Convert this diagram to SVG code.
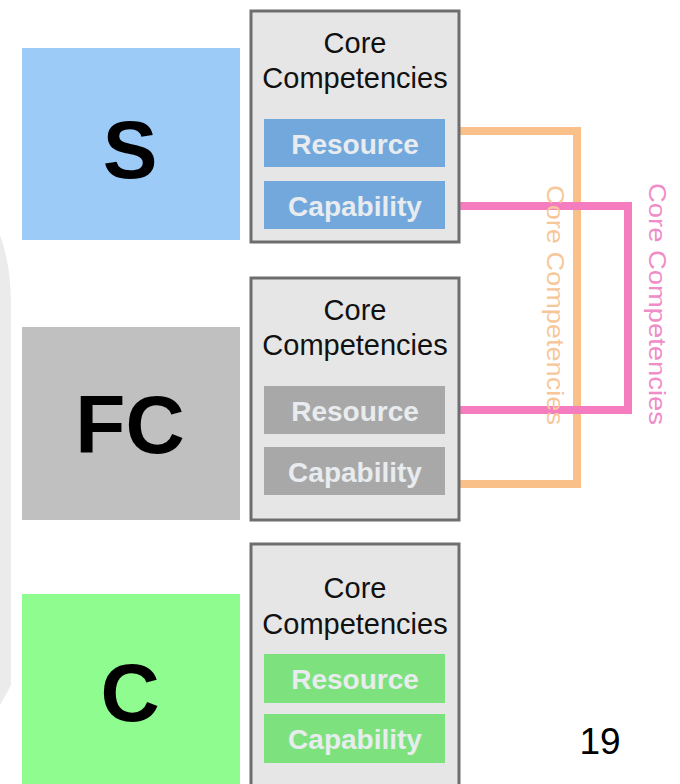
<svg xmlns="http://www.w3.org/2000/svg" width="680" height="784" viewBox="0 0 680 784">
<style>
.big{font-family:"Liberation Sans",Arial,sans-serif;font-weight:bold;font-size:82px;fill:#000;text-anchor:middle}
.cc{font-family:"Liberation Sans",Arial,sans-serif;font-size:29px;fill:#111;text-anchor:middle}
.in{font-family:"Liberation Sans",Arial,sans-serif;font-weight:bold;font-size:28px;fill:#e8ecef;text-anchor:middle}
.cont{fill:#e6e6e6;stroke:#6e6e6e;stroke-width:3}
.vt{font-family:"Liberation Sans",Arial,sans-serif;font-size:24px;text-anchor:middle}
.conn{fill:none;stroke-width:8;stroke-linejoin:miter}
</style>
<rect x="0" y="0" width="680" height="784" fill="#ffffff"/>
<path d="M0,235 Q11,265 11,305 L11,685 Q6,695 0,705 Z" fill="#ebebeb"/>
<g id="connectors">
<path class="conn" d="M446,131 H577 V484 H446" stroke="#f9c08a"/>
<path class="conn" d="M446,206 H628 V410 H446" stroke="#f47cbf"/>
<text class="vt" transform="translate(547,305) rotate(90)" fill="#f7c79a" textLength="240" lengthAdjust="spacingAndGlyphs">Core Competencies</text>
<text class="vt" transform="translate(649,304) rotate(90)" fill="#f08cc8" textLength="242" lengthAdjust="spacingAndGlyphs">Core Competencies</text>
</g>
<g id="S">
<rect x="22" y="48" width="218" height="192" fill="#9ccbf7"/>
<text class="big" x="130" y="178">S</text>
</g>
<g id="S-core">
<rect class="cont" x="251" y="11" width="208" height="231"/>
<text class="cc" x="355" y="53">Core</text>
<text class="cc" x="355" y="88">Competencies</text>
<rect x="264" y="119" width="181" height="48" fill="#73a8dd"/>
<text class="in" x="355" y="154">Resource</text>
<rect x="264" y="181" width="181" height="48" fill="#73a8dd"/>
<text class="in" x="355" y="216">Capability</text>
</g>
<g id="FC">
<rect x="22" y="327" width="218" height="193" fill="#c0c0c0"/>
<text class="big" x="130" y="453">FC</text>
</g>
<g id="FC-core">
<rect class="cont" x="251" y="278" width="208" height="242"/>
<text class="cc" x="355" y="320">Core</text>
<text class="cc" x="355" y="355">Competencies</text>
<rect x="264" y="386" width="181" height="48" fill="#a8a8a8"/>
<text class="in" x="355" y="421">Resource</text>
<rect x="264" y="447" width="181" height="48" fill="#a8a8a8"/>
<text class="in" x="355" y="482">Capability</text>
</g>
<g id="C">
<rect x="22" y="594" width="218" height="190" fill="#8ffc8f"/>
<text class="big" x="130" y="721">C</text>
</g>
<g id="C-core">
<rect class="cont" x="251" y="544" width="208" height="245"/>
<text class="cc" x="355" y="598">Core</text>
<text class="cc" x="355" y="634">Competencies</text>
<rect x="264" y="654" width="181" height="49" fill="#7de27d"/>
<text class="in" x="355" y="689">Resource</text>
<rect x="264" y="714" width="181" height="49" fill="#7de27d"/>
<text class="in" x="355" y="749">Capability</text>
</g>
<text x="600" y="754" font-family="'Liberation Sans',Arial,sans-serif" font-size="37" fill="#000" text-anchor="middle">19</text>
</svg>
